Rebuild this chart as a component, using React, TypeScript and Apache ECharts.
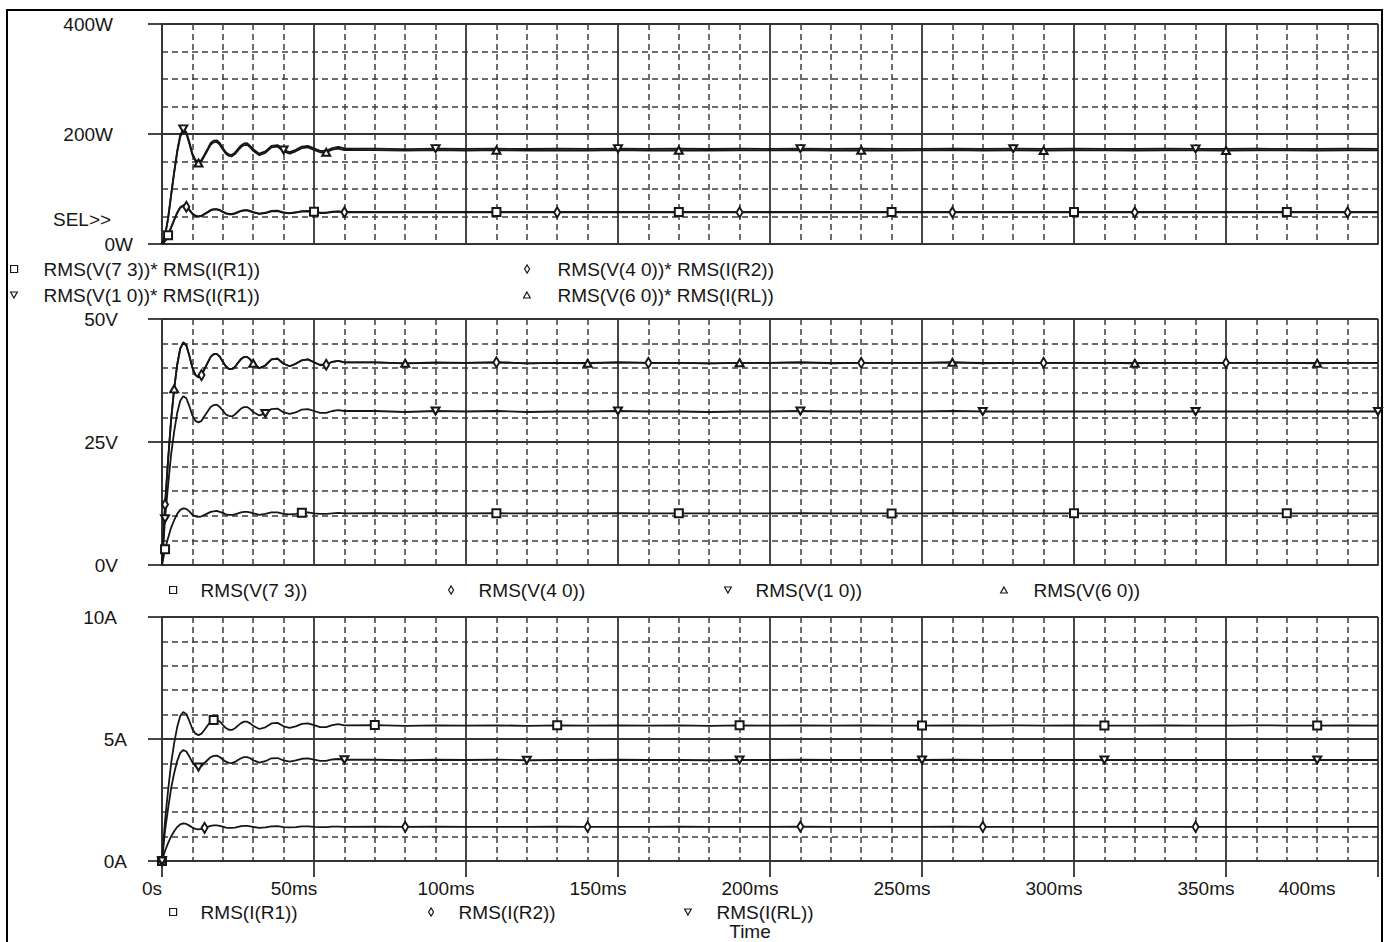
import { useEffect, useRef } from 'react';
import * as echarts from 'echarts';

// ---- Time base (ms): fine steps through the start-up transient, coarse afterwards ----
const TIME_MS = [
  0, 1, 2, 3, 4, 5, 6, 7, 8, 9, 10, 11, 12, 13, 14, 15, 16, 17, 18, 19, 20, 21, 22, 23, 24, 25, 26, 27, 28, 29, 30,
  32, 34, 36, 38, 40, 42, 44, 46, 48, 50, 52, 54, 56, 58, 60,
  70, 80, 90, 100, 110, 120, 130, 140, 150, 160, 170, 180, 190, 200, 210, 220, 230, 240, 250,
  260, 270, 280, 290, 300, 310, 320, 330, 340, 350, 360, 370, 380, 390, 400,
];

// ---- Tick labels ----
const TIME_TICKS = ['0s', '50ms', '100ms', '150ms', '200ms', '250ms', '300ms', '350ms', '400ms'];
const POWER_TICKS = ['0W', '200W', '400W'];
const VOLT_TICKS = ['0V', '25V', '50V'];
const AMP_TICKS = ['0A', '5A', '10A'];

// ---- Power traces (W) ----
const P_V73_IR1 = [
  0, 5.2, 15.7, 30.2, 44.1, 57.1, 66.8, 70.5, 68.6, 62.4, 55.4, 51.5, 50.4, 51.5, 54.9, 58.3, 61.9, 63.3, 63.5, 61.9,
  58.9, 56.2, 54.9, 54.6, 56.0, 58.3, 60.4, 61.6, 61.7, 60.2, 58.1,
  55.3, 56.8, 60.2, 60.6, 57.6, 56.3, 57.7, 59.7, 60.2, 58.6, 57.1, 57.1, 58.8, 59.5, 58.5,
  58.5, 58.2, 58.4, 58.3, 58.4, 58.2, 58.4, 58.3, 58.4, 58.3, 58.3, 58.2, 58.4, 58.3, 58.4, 58.3, 58.3,
  58.3, 58.3, 58.4, 58.3, 58.3, 58.3, 58.3, 58.3, 58.3, 58.3, 58.3, 58.3, 58.3, 58.3, 58.3, 58.3, 58.3,
];
const P_V40_IR2 = [
  0, 5.2, 15.5, 29.8, 43.5, 56.4, 65.8, 69.6, 67.7, 61.6, 54.7, 50.8, 49.7, 50.8, 54.1, 57.5, 61.0, 62.4, 62.7, 61.0,
  58.1, 55.4, 54.1, 53.9, 55.2, 57.5, 59.6, 60.8, 60.9, 59.3, 57.3,
  54.6, 56.0, 59.3, 59.8, 56.8, 55.5, 56.9, 58.9, 59.3, 57.8, 56.4, 56.4, 58.0, 58.7, 57.7,
  57.7, 57.4, 57.6, 57.5, 57.6, 57.4, 57.6, 57.5, 57.6, 57.5, 57.5, 57.4, 57.6, 57.5, 57.6, 57.5, 57.5,
  57.5, 57.5, 57.6, 57.5, 57.5, 57.5, 57.5, 57.5, 57.5, 57.5, 57.5, 57.5, 57.5, 57.5, 57.5, 57.5, 57.5,
];
const P_V10_IR1 = [
  0, 15.6, 46.7, 89.6, 131.0, 169.5, 198.1, 209.3, 203.6, 185.3, 164.5, 152.9, 149.6, 152.9, 162.8, 173.0, 183.6, 187.9,
  188.6, 183.6, 174.7, 166.8, 162.8, 162.1, 166.1, 173.0, 179.2, 182.9, 183.2, 178.5, 172.3,
  164.2, 168.5, 178.5, 179.9, 170.9, 167.1, 171.3, 177.2, 178.5, 174.0, 169.5, 169.5, 174.4, 176.5, 173.7,
  173.5, 172.6, 173.3, 172.8, 173.4, 172.7, 173.2, 172.8, 173.3, 172.8, 173.2, 172.7, 173.2, 173.0, 173.3, 172.8, 173.2,
  172.8, 173.0, 173.3, 172.8, 173.2, 172.8, 173.2, 173.0, 172.8, 173.2, 173.0, 172.8, 173.2, 173.0, 172.8, 173.2, 173.0,
];
const P_V60_IRL = [
  0, 15.3, 46.0, 88.2, 128.8, 166.8, 194.9, 205.9, 200.3, 182.3, 161.9, 150.5, 147.2, 150.5, 160.2, 170.2, 180.6, 184.8,
  185.5, 180.6, 171.9, 164.1, 160.2, 159.5, 163.4, 170.2, 176.3, 179.9, 180.2, 175.6, 169.5,
  161.5, 165.8, 175.6, 177.0, 168.2, 164.4, 168.5, 174.3, 175.6, 171.2, 166.8, 166.8, 171.6, 173.6, 170.9,
  170.7, 169.9, 170.5, 170.0, 170.5, 169.9, 170.4, 170.0, 170.5, 170.0, 170.4, 169.9, 170.4, 170.2, 170.5, 170.0, 170.4,
  170.0, 170.2, 170.5, 170.0, 170.4, 170.0, 170.4, 170.2, 170.0, 170.4, 170.2, 170.0, 170.4, 170.2, 170.0, 170.4, 170.2,
];

// ---- Voltage traces (V) ----
const V_73 = [
  0, 3.2, 5.5, 7.6, 9.1, 10.4, 11.2, 11.5, 11.4, 10.9, 10.2, 9.9, 9.8, 9.9, 10.2, 10.5, 10.8, 10.9, 11.0, 10.8,
  10.6, 10.3, 10.2, 10.2, 10.3, 10.5, 10.7, 10.8, 10.8, 10.7, 10.5,
  10.2, 10.4, 10.7, 10.7, 10.4, 10.3, 10.4, 10.6, 10.7, 10.5, 10.4, 10.4, 10.5, 10.6, 10.5,
  10.53, 10.48, 10.52, 10.49, 10.52, 10.48, 10.51, 10.49, 10.52, 10.49, 10.51, 10.48, 10.51, 10.5, 10.52, 10.49, 10.51,
  10.49, 10.5, 10.52, 10.49, 10.51, 10.49, 10.51, 10.5, 10.49, 10.51, 10.5, 10.49, 10.51, 10.5, 10.49, 10.51, 10.5,
];
const V_40 = [
  0, 12.3, 21.4, 29.6, 35.8, 40.7, 44.0, 45.2, 44.6, 42.5, 40.1, 38.6, 38.2, 38.6, 39.9, 41.1, 42.3, 42.8, 42.9, 42.3,
  41.3, 40.4, 39.9, 39.8, 40.3, 41.1, 41.8, 42.3, 42.3, 41.8, 41.0,
  40.0, 40.6, 41.8, 41.9, 40.9, 40.4, 40.9, 41.6, 41.8, 41.2, 40.7, 40.7, 41.3, 41.5, 41.2,
  41.2, 41.0, 41.2, 41.1, 41.2, 41.0, 41.1, 41.1, 41.2, 41.1, 41.1, 41.0, 41.1, 41.1, 41.2, 41.1, 41.1,
  41.1, 41.1, 41.2, 41.1, 41.1, 41.1, 41.1, 41.1, 41.1, 41.1, 41.1, 41.1, 41.1, 41.1, 41.1, 41.1, 41.1,
];
const V_10 = [
  0, 9.4, 16.2, 22.5, 27.1, 30.9, 33.4, 34.3, 33.9, 32.3, 30.4, 29.3, 29.0, 29.3, 30.3, 31.2, 32.1, 32.5, 32.6, 32.1,
  31.4, 30.6, 30.3, 30.2, 30.6, 31.2, 31.8, 32.1, 32.1, 31.7, 31.1,
  30.4, 30.8, 31.7, 31.8, 31.0, 30.7, 31.0, 31.6, 31.7, 31.3, 30.9, 30.9, 31.3, 31.5, 31.3,
  31.3, 31.1, 31.3, 31.2, 31.3, 31.1, 31.2, 31.2, 31.3, 31.2, 31.2, 31.1, 31.2, 31.2, 31.3, 31.2, 31.2,
  31.2, 31.2, 31.3, 31.2, 31.2, 31.2, 31.2, 31.2, 31.2, 31.2, 31.2, 31.2, 31.2, 31.2, 31.2, 31.2, 31.2,
];
const V_60 = [
  0, 12.2, 21.3, 29.5, 35.8, 40.7, 44.0, 45.3, 44.7, 42.6, 40.1, 38.6, 38.1, 38.5, 39.8, 41.1, 42.3, 42.9, 42.9, 42.4,
  41.3, 40.4, 39.8, 39.8, 40.2, 41.1, 41.9, 42.3, 42.3, 41.8, 41.0,
  40.0, 40.5, 41.8, 42.0, 40.9, 40.4, 40.9, 41.6, 41.8, 41.2, 40.6, 40.7, 41.3, 41.5, 41.2,
  41.2, 41.0, 41.1, 41.1, 41.2, 41.0, 41.1, 41.0, 41.2, 41.1, 41.1, 41.0, 41.1, 41.1, 41.2, 41.0, 41.1,
  41.1, 41.1, 41.2, 41.0, 41.1, 41.1, 41.1, 41.1, 41.0, 41.1, 41.1, 41.1, 41.1, 41.1, 41.0, 41.1, 41.1,
];

// ---- Current traces (A) ----
const I_R1 = [
  0, 1.67, 2.89, 4.0, 4.83, 5.49, 5.94, 6.11, 6.02, 5.74, 5.41, 5.22, 5.16, 5.22, 5.38, 5.55, 5.72, 5.78, 5.79, 5.72,
  5.58, 5.45, 5.38, 5.37, 5.44, 5.55, 5.65, 5.71, 5.71, 5.64, 5.54,
  5.41, 5.48, 5.64, 5.66, 5.52, 5.46, 5.52, 5.62, 5.64, 5.57, 5.49, 5.49, 5.57, 5.61, 5.56,
  5.57, 5.54, 5.56, 5.55, 5.56, 5.54, 5.56, 5.55, 5.56, 5.55, 5.56, 5.54, 5.56, 5.55, 5.56, 5.55, 5.56,
  5.55, 5.55, 5.56, 5.55, 5.56, 5.55, 5.56, 5.55, 5.55, 5.56, 5.55, 5.55, 5.56, 5.55, 5.55, 5.56, 5.55,
];
const I_RL = [
  0, 1.24, 2.15, 2.98, 3.6, 4.1, 4.43, 4.55, 4.49, 4.28, 4.04, 3.89, 3.85, 3.89, 4.02, 4.14, 4.26, 4.31, 4.32, 4.26,
  4.16, 4.07, 4.02, 4.01, 4.06, 4.14, 4.21, 4.26, 4.26, 4.21, 4.13,
  4.03, 4.09, 4.21, 4.22, 4.12, 4.07, 4.12, 4.19, 4.21, 4.15, 4.1, 4.1, 4.16, 4.18, 4.15,
  4.15, 4.13, 4.15, 4.14, 4.15, 4.13, 4.14, 4.14, 4.15, 4.14, 4.14, 4.13, 4.14, 4.14, 4.15, 4.14, 4.14,
  4.14, 4.14, 4.15, 4.14, 4.14, 4.14, 4.14, 4.14, 4.14, 4.14, 4.14, 4.14, 4.14, 4.14, 4.14, 4.14, 4.14,
];
const I_R2 = [
  0, 0.42, 0.73, 1.01, 1.22, 1.39, 1.5, 1.54, 1.52, 1.45, 1.37, 1.32, 1.3, 1.32, 1.36, 1.4, 1.44, 1.46, 1.46, 1.44,
  1.41, 1.37, 1.36, 1.36, 1.37, 1.4, 1.43, 1.44, 1.44, 1.42, 1.4,
  1.36, 1.38, 1.42, 1.43, 1.39, 1.38, 1.39, 1.42, 1.42, 1.4, 1.39, 1.39, 1.41, 1.41, 1.4,
  1.41, 1.4, 1.41, 1.4, 1.4, 1.4, 1.41, 1.4, 1.4, 1.4, 1.41, 1.4, 1.4, 1.4, 1.41, 1.4, 1.4,
  1.4, 1.4, 1.41, 1.4, 1.4, 1.4, 1.4, 1.4, 1.4, 1.4, 1.4, 1.4, 1.4, 1.4, 1.4, 1.4, 1.4,
];

// ---- Times (ms) at which each trace carries its identifying marker ----
const MK_P_V73_IR1 = [2, 50, 110, 170, 240, 300, 370];
const MK_P_V40_IR2 = [8, 60, 130, 190, 260, 320, 390];
const MK_P_V10_IR1 = [7, 40, 90, 150, 210, 280, 340];
const MK_P_V60_IRL = [12, 54, 110, 170, 230, 290, 350];
const MK_V_73 = [1, 46, 110, 170, 240, 300, 370];
const MK_V_40 = [1, 13, 54, 110, 160, 230, 290, 350];
const MK_V_60 = [4, 30, 80, 140, 190, 260, 320, 380];
const MK_V_10 = [1, 34, 90, 150, 210, 270, 340, 400];
const MK_I_R1 = [0, 17, 70, 130, 190, 250, 310, 380];
const MK_I_RL = [0, 12, 60, 120, 190, 250, 310, 380];
const MK_I_R2 = [0, 14, 80, 140, 210, 270, 340];

const INK = '#161616';
const MAJOR = '#333333';
const MINOR = '#3c3c3c';
const FAMILY = '"Liberation Sans", Arial, Helvetica, sans-serif';
const FS = 19;

type Kind = 'square' | 'diamond' | 'up' | 'down';
const MARK: Record<Kind, { symbol: string; size: number[]; rotate: number; icon: string; iw: number; ih: number }> = {
  square: { symbol: 'emptyRect', size: [8, 8], rotate: 0, icon: 'path://M0,0H10V10H0Z', iw: 7, ih: 7 },
  diamond: { symbol: 'emptyDiamond', size: [6, 10], rotate: 0, icon: 'path://M5,0L10,8L5,16L0,8Z', iw: 5, ih: 8 },
  up: { symbol: 'emptyTriangle', size: [8, 7], rotate: 0, icon: 'path://M5,0L10,9L0,9Z', iw: 7, ih: 6 },
  down: { symbol: 'emptyTriangle', size: [8, 7], rotate: 180, icon: 'path://M0,0L10,0L5,9Z', iw: 7, ih: 6 },
};

function trace(name: string, values: number[], marks: number[], kind: Kind, axis: number) {
  const m = MARK[kind];
  return {
    type: 'line',
    name,
    xAxisIndex: axis,
    yAxisIndex: axis,
    symbol: 'none',
    showSymbol: true,
    silent: true,
    z: 5,
    lineStyle: { color: INK, width: 1.8 },
    itemStyle: { color: INK, borderWidth: 1.3 },
    data: TIME_MS.map((t, i) =>
      marks.includes(t)
        ? { value: [t, values[i]], symbol: m.symbol, symbolSize: m.size, symbolRotate: m.rotate }
        : [t, values[i]]
    ),
  };
}

function legendEntry(name: string, kind: Kind, iconLeft: number, cy: number, textX: number) {
  const m = MARK[kind];
  const pad = textX - iconLeft - m.iw - 5;
  return {
    show: true,
    selectedMode: false,
    orient: 'horizontal',
    padding: 0,
    left: iconLeft,
    top: cy - FS / 2,
    itemWidth: m.iw,
    itemHeight: m.ih,
    icon: m.icon,
    itemStyle: { color: '#fff', borderColor: INK, borderWidth: 1.2 },
    data: [name],
    formatter: (n: string) => `{t|${n}}`,
    textStyle: {
      color: INK,
      fontFamily: FAMILY,
      fontSize: FS,
      rich: { t: { padding: [0, 0, 0, pad], color: INK, fontFamily: FAMILY, fontSize: FS } },
    },
  };
}

const labelFont = { color: INK, fontFamily: FAMILY, fontSize: FS };

function xAxis(gridIndex: number, labelled: boolean) {
  return {
    type: 'value',
    gridIndex,
    min: 0,
    max: 400,
    interval: 50,
    axisLine: { show: true, onZero: false, lineStyle: { color: MAJOR, width: 1.8 } },
    axisTick: { show: labelled, length: 16, lineStyle: { color: MAJOR, width: 1.8 } },
    axisLabel: labelled
      ? {
          show: true,
          margin: 18,
          showMinLabel: true,
          showMaxLabel: true,
          ...labelFont,
          formatter: (_v: number, i: number) => {
            const key = i === 0 ? 'z' : i === TIME_TICKS.length - 1 ? 'e' : 'm';
            return `{${key}|${TIME_TICKS[i]}}`;
          },
          rich: {
            z: { ...labelFont, padding: [0, 20, 0, 0] },
            m: { ...labelFont, padding: [0, 40, 0, 0] },
            e: { ...labelFont, padding: [0, 142, 0, 0] },
          },
        }
      : { show: false },
    name: labelled ? 'Time' : '',
    nameLocation: 'middle',
    nameGap: 61,
    nameTextStyle: { ...labelFont, padding: [0, 40, 0, 0] },
    splitLine: { show: true, lineStyle: { color: MAJOR, width: 1.8 } },
    minorTick: { show: false, splitNumber: 5 },
    minorSplitLine: { show: true, lineStyle: { color: MINOR, width: 1.5, type: [6, 4] } },
  };
}

function yAxis(
  gridIndex: number,
  max: number,
  interval: number,
  minor: number,
  ticks: string[],
  margin: number,
  extraPad: number[]
) {
  return {
    type: 'value',
    gridIndex,
    min: 0,
    max,
    interval,
    axisLine: { show: true, onZero: false, lineStyle: { color: MAJOR, width: 1.8 } },
    axisTick: { show: true, length: 14, lineStyle: { color: MAJOR, width: 1.8 } },
    axisLabel: {
      show: true,
      margin,
      ...labelFont,
      formatter: (_v: number, i: number) => `{p${extraPad[i]}|${ticks[i]}}`,
      rich: Object.fromEntries(
        extraPad.map((p) => [`p${p}`, { ...labelFont, padding: [0, p, 0, 0] }])
      ),
    },
    splitLine: { show: true, lineStyle: { color: MAJOR, width: 1.8 } },
    minorTick: { show: false, splitNumber: minor },
    minorSplitLine: { show: true, lineStyle: { color: MINOR, width: 1.5, type: [6, 4] } },
  };
}

const N = {
  p73: 'RMS(V(7 3))* RMS(I(R1))',
  p40: 'RMS(V(4 0))* RMS(I(R2))',
  p10: 'RMS(V(1 0))* RMS(I(R1))',
  p60: 'RMS(V(6 0))* RMS(I(RL))',
  v73: 'RMS(V(7 3))',
  v40: 'RMS(V(4 0))',
  v10: 'RMS(V(1 0))',
  v60: 'RMS(V(6 0))',
  ir1: 'RMS(I(R1))',
  ir2: 'RMS(I(R2))',
  irl: 'RMS(I(RL))',
};

export default function App() {
  const ref = useRef<HTMLDivElement>(null);

  useEffect(() => {
    if (!ref.current) return;
    const chart = echarts.init(ref.current, undefined, { renderer: 'svg' });
    chart.setOption({
      animation: false,
      backgroundColor: '#ffffff',
      grid: [
        { left: 162, top: 24, right: 11, height: 220, outerBoundsMode: 'none' },
        { left: 162, top: 319, right: 11, height: 246, outerBoundsMode: 'none' },
        { left: 162, top: 617, right: 11, height: 244, outerBoundsMode: 'none' },
      ],
      xAxis: [xAxis(0, false), xAxis(1, false), xAxis(2, true)],
      yAxis: [
        yAxis(0, 400, 200, 4, POWER_TICKS, 29, [0, 20, 20]),
        yAxis(1, 50, 25, 5, VOLT_TICKS, 44, [0, 0, 0]),
        yAxis(2, 10, 5, 5, AMP_TICKS, 35, [0, 0, 10]),
      ],
      legend: [
        legendEntry(N.p73, 'square', 10, 269, 43),
        legendEntry(N.p10, 'down', 10, 295, 43),
        legendEntry(N.p40, 'diamond', 524, 269, 557),
        legendEntry(N.p60, 'up', 523, 295, 557),
        legendEntry(N.v73, 'square', 169, 590, 200),
        legendEntry(N.v40, 'diamond', 448, 590, 478),
        legendEntry(N.v10, 'down', 724, 590, 755),
        legendEntry(N.v60, 'up', 1000, 590, 1033),
        legendEntry(N.ir1, 'square', 169, 912, 200),
        legendEntry(N.ir2, 'diamond', 428, 912, 458),
        legendEntry(N.irl, 'down', 684, 912, 716),
      ],
      graphic: [
        {
          type: 'rect',
          silent: true,
          z: -10,
          shape: { x: 7, y: 10, width: 1375, height: 960 },
          style: { fill: 'none', stroke: '#000', lineWidth: 2 },
        },
        {
          type: 'text',
          x: 53,
          y: 219,
          silent: true,
          style: {
            text: 'SEL>>',
            fill: INK,
            font: `${FS}px ${FAMILY}`,
            verticalAlign: 'middle',
          },
        },
      ],
      series: [
        trace(N.p73, P_V73_IR1, MK_P_V73_IR1, 'square', 0),
        trace(N.p40, P_V40_IR2, MK_P_V40_IR2, 'diamond', 0),
        trace(N.p10, P_V10_IR1, MK_P_V10_IR1, 'down', 0),
        trace(N.p60, P_V60_IRL, MK_P_V60_IRL, 'up', 0),
        trace(N.v73, V_73, MK_V_73, 'square', 1),
        trace(N.v40, V_40, MK_V_40, 'diamond', 1),
        trace(N.v10, V_10, MK_V_10, 'down', 1),
        trace(N.v60, V_60, MK_V_60, 'up', 1),
        trace(N.ir1, I_R1, MK_I_R1, 'square', 2),
        trace(N.ir2, I_R2, MK_I_R2, 'diamond', 2),
        trace(N.irl, I_RL, MK_I_RL, 'down', 2),
      ],
    });
    return () => chart.dispose();
  }, []);

  return (
    <div
      ref={ref}
      style={{ position: 'fixed', left: 0, top: 0, width: 1389, height: 942, background: '#fff' }}
    />
  );
}
